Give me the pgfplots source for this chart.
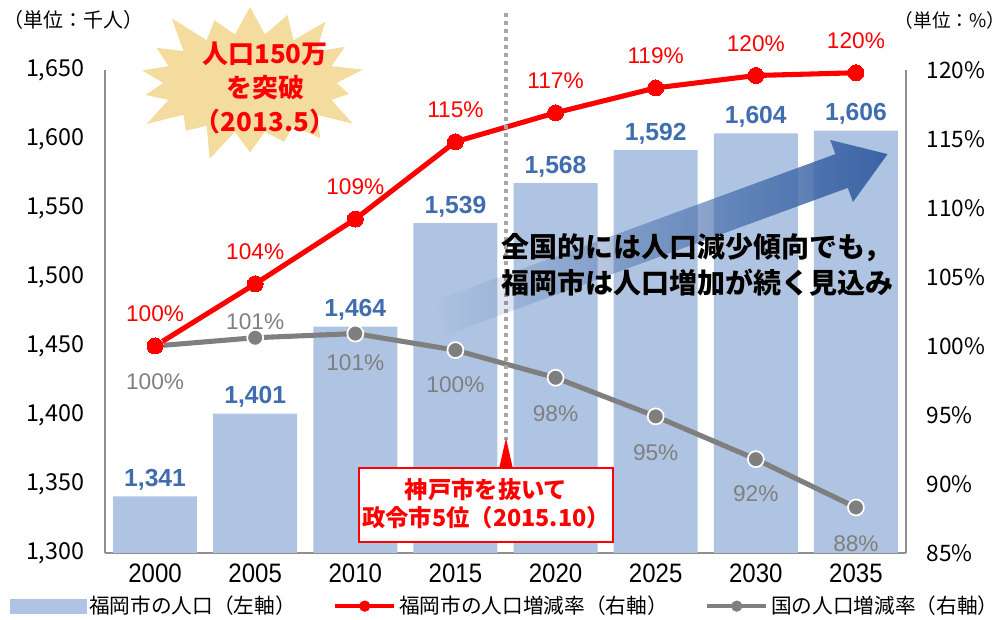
\documentclass[border=0pt]{standalone}
\usepackage{pgfplots}
\pgfplotsset{compat=1.18}
\usepackage{pgfplotstable}
\usepackage{fontspec}
\usepackage{pdfrender}
\setmainfont{Liberation Sans}
\newfontfamily\jp{Noto Sans CJK JP}
\newfontfamily\yr[FakeStretch=0.9]{Liberation Sans}
\usetikzlibrary{shapes.symbols,fadings}
\definecolor{barblue}{HTML}{AFC4E2}
\definecolor{lblue}{HTML}{3F6DB0}
\definecolor{arrblue}{HTML}{3B64A5}
\definecolor{redl}{HTML}{FF0000}
\definecolor{grayl}{HTML}{7F7F7F}
\definecolor{axgray}{HTML}{8F8F8F}
\definecolor{dotgray}{HTML}{A6A6A6}
\definecolor{burst}{HTML}{F3DC9E}
\tikzfading[name=arrowfade, left color=transparent!100, middle color=transparent!20, right color=transparent!0]

\pgfplotstableread{
x y
0 1341
1 1401
2 1464
3 1539
4 1568
5 1592
6 1604
7 1606
}\popdata

\pgfplotstableread{
x y lab
0 100 100
1 104.5 104
2 109.2 109
3 114.8 115
4 116.9 117
5 118.7 119
6 119.6 120
7 119.8 120
}\reddata

\pgfplotstableread{
x y lab dy
0 100 100 -27
1 100.6 101 12
2 100.9 101 -22
3 99.7 100 -26
4 97.7 98 -27
5 94.9 95 -27
6 91.8 92 -26
7 88.3 88 -27
}\graydata

\newcommand\glowtext[3]{%
  \node[#2, text=white] at #1 {\pdfrender{TextRenderingMode=2, LineWidth=3.2pt, LineJoin=1, StrokeColor=white}#3};
  \node[#2] at #1 {#3};
}

\begin{document}
\begin{tikzpicture}
\useasboundingbox (-78.75pt,-50.25pt) rectangle (675.75pt,414.75pt);
\begin{axis}[
  at={(0,0)}, anchor=south west, scale only axis,
  width=600.75pt, height=362.25pt,
  xmin=-0.5, xmax=7.5, ymin=1300, ymax=1650,
  axis x line*=bottom, axis y line*=left,
  axis line style={axgray, line width=1.4pt, -},
  xtick={0,...,7}, xticklabels={2000,2005,2010,2015,2020,2025,2030,2035},
  ytick={1300,1350,...,1650},
  major tick length=0pt, tick style={draw=none},
  xticklabel style={font=\yr\fontsize{20}{24}\selectfont, yshift=-5pt},
  yticklabel style={font=\jp\fontsize{17.5}{20}\selectfont, xshift=-12pt},
  /pgf/number format/assume math mode=true,
  ybar, bar width=63pt,
  nodes near coords,
  every node near coord/.append style={font=\bfseries\fontsize{18.5}{22}\selectfont, text=lblue, yshift=1pt},
]
\addplot[fill=barblue, draw=none] table[x=x,y=y]{\popdata};
\end{axis}

\begin{axis}[
  at={(0,0)}, anchor=south west, scale only axis,
  width=600.75pt, height=362.25pt,
  xmin=-0.5, xmax=7.5, ymin=85, ymax=120,
  axis x line=none, axis y line*=right,
  axis line style={axgray, line width=1.4pt, -},
  ytick={85,90,...,120},
  yticklabel={\pgfmathprintnumber{\tick}\%},
  yticklabel style={font=\jp\fontsize{17}{20}\selectfont, xshift=12pt},
  major tick length=0pt, tick style={draw=none},
  /pgf/number format/assume math mode=true,
  clip=false,
  legend columns=3,
  legend style={draw=none, fill=none, at={(0.5,-0.11)}, anchor=center,
    font=\jp\fontsize{15.5}{18}\selectfont,
    /tikz/every even column/.append style={column sep=26pt}},
]
\addlegendimage{legend image code/.code={\fill[barblue] (-6pt,-5.5pt) rectangle (51pt,5.5pt);}}
\addlegendentry{福岡市の人口（左軸）}
\addlegendimage{legend image code/.code={\draw[redl,line width=3.5pt] (0pt,0pt)--(44pt,0pt); \fill[redl] (22pt,0pt) circle (4pt);}}
\addlegendentry{福岡市の人口増減率（右軸）}
\addlegendimage{legend image code/.code={\draw[grayl,line width=3.5pt] (0pt,0pt)--(44pt,0pt); \fill[grayl] (22pt,0pt) circle (4pt);}}
\addlegendentry{国の人口増減率（右軸）}

\addplot[forget plot, grayl, line width=3.8pt, mark=*, mark size=6pt,
  mark options={fill=grayl, draw=white, line width=1.3pt},
  point meta=explicit symbolic,
  visualization depends on={\thisrow{dy} \as \dy},
  nodes near coords={\pgfplotspointmeta\%},
  nodes near coords style={anchor=center, yshift=\dy pt, text=grayl, font=\fontsize{17}{20}\selectfont}]
  table[x=x,y=y,meta=lab]{\graydata};
\addplot[forget plot, redl, line width=3.8pt, mark=*, mark size=6pt,
  mark options={fill=redl, draw=redl, line width=0pt},
  point meta=explicit symbolic,
  nodes near coords={\pgfplotspointmeta\%},
  nodes near coords style={anchor=center, yshift=24pt, text=redl, font=\fontsize{17}{20}\selectfont}]
  table[x=x,y=y,meta=lab]{\reddata};
\end{axis}

\begin{scope}[shift={(-78.75pt,414.75pt)}, x=0.75pt, y=-0.75pt]
  % dotted marker line
  \draw[dotgray, line width=3pt, dash pattern=on 3pt off 3pt] (506,13) -- (506,440);
  % big arrow
  \fill[arrblue, path fading=arrowfade]
    (433.8,301.1) -- (835.3,154.1) -- (830.1,140) -- (887.5,154.1) -- (852.9,202) -- (847.7,187.9) -- (446.2,334.9) -- cycle;
  \glowtext{(697,265)}{font=\jp\bfseries\fontsize{21}{27}\selectfont, align=left, text=black}{全国的には人口減少傾向でも，\\福岡市は人口増加が続く見込み}
  % callout
  \draw[redl, line width=1.5pt, fill=white] (359,468) rectangle (613,542);
  \fill[redl] (499,469) -- (513,469) -- (506,438) -- cycle;
  \node[font=\jp\bfseries\fontsize{17.5}{21}\selectfont, text=redl, align=center] at (486,504) {神戸市を抜いて\\政令市5位（2015.10）};
  % starburst
  \node[starburst, starburst points=18, starburst point height=28pt, fill=burst, draw=none,
        minimum width=186pt, minimum height=130pt] at (250,83) {};
  \glowtext{(265,88)}{font=\jp\bfseries\fontsize{19.5}{25.5}\selectfont, align=center, text=redl}{人口150万\\を突破\\（2013.5）}
  % unit labels
  \node[font=\jp\fontsize{15}{18}\selectfont] at (74,20) {（単位：千人）};
  \node[font=\jp\fontsize{14}{17}\selectfont, inner sep=1pt] at (950,20) {（単位：\%）};
\end{scope}
\end{tikzpicture}
\end{document}
